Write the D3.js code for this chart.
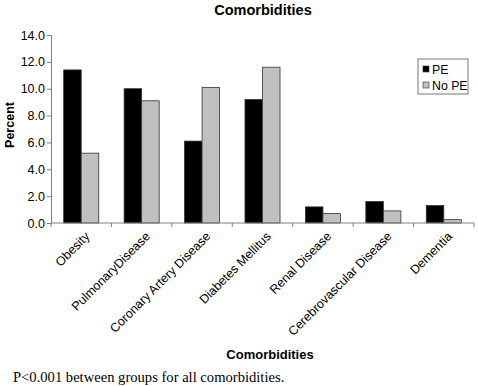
<!DOCTYPE html>
<html>
<head>
<meta charset="utf-8">
<script src="https://cdn.jsdelivr.net/npm/d3@7"></script>
<style>
  body { margin: 0; background: #fff; }
  svg { display: block; }
</style>
</head>
<body>
<div id="chart"></div>
<script>
// Data
const categories = ['Obesity', 'PulmonaryDisease', 'Coronary Artery Disease', 'Diabetes Mellitus',
                    'Renal Disease', 'Cerebrovascular Disease', 'Dementia'];
const seriesNames = ['PE', 'No PE'];
const pe   = [11.4, 10.0, 6.1, 9.2, 1.2, 1.6, 1.3];
const noPe = [5.2, 9.1, 10.1, 11.6, 0.7, 0.9, 0.25];
const yTicks = [0, 2, 4, 6, 8, 10, 12, 14];

const W = 478, H = 386;
const margin = { top: 35, right: 4, bottom: 163, left: 51 };
const width = W - margin.left - margin.right;
const height = H - margin.top - margin.bottom;
const colors = ['#000000', '#c0c0c0'];
const sans = 'Liberation Sans, Arial, sans-serif';

const rows = categories.map((c, i) => ({ cat: c, vals: [pe[i], noPe[i]] }));

const svg = d3.select('#chart').append('svg')
    .attr('width', W).attr('height', H);

const g = svg.append('g')
    .attr('transform', `translate(${margin.left},${margin.top})`);

const x = d3.scaleBand().domain(categories).range([0, width]).paddingInner(0.42).paddingOuter(0.21);
const xOuter = d3.scaleBand().domain(categories).range([0, width]);
const xSub = d3.scaleBand().domain(seriesNames).range([0, x.bandwidth()]);
const y = d3.scaleLinear().domain([0, 14]).range([height, 0]);

// bars
const groups = g.selectAll('.grp').data(rows).join('g')
    .attr('class', 'grp')
    .attr('transform', d => `translate(${x(d.cat)},0)`);

groups.selectAll('rect')
    .data(d => d.vals.map((v, i) => ({ v, s: seriesNames[i], i })))
    .join('rect')
    .attr('x', d => xSub(d.s))
    .attr('y', d => y(d.v))
    .attr('width', xSub.bandwidth())
    .attr('height', d => y(0) - y(d.v))
    .attr('fill', d => colors[d.i])
    .attr('stroke', '#333')
    .attr('stroke-width', 0.8);

// y axis
const yAxis = g.append('g')
    .call(d3.axisLeft(y).tickValues(yTicks).tickFormat(d3.format('.1f')).tickSize(4).tickPadding(2));
yAxis.select('.domain').attr('stroke', '#808080');
yAxis.selectAll('.tick line').attr('stroke', '#808080');
yAxis.selectAll('text').attr('font-family', sans).attr('font-size', '12.5px').attr('fill', '#000');

// x axis: ticks between categories
const xAxisG = g.append('g').attr('transform', `translate(0,${height})`);
xAxisG.append('line')
    .attr('x1', 0).attr('x2', width).attr('stroke', '#808080');
xAxisG.selectAll('.xt').data(categories.concat(['end'])).join('line')
    .attr('class', 'xt')
    .attr('x1', (d, i) => i < categories.length ? xOuter(d) : width)
    .attr('x2', (d, i) => i < categories.length ? xOuter(d) : width)
    .attr('y1', 0).attr('y2', 4)
    .attr('stroke', '#808080');
xAxisG.selectAll('.xl').data(categories).join('text')
    .attr('class', 'xl')
    .attr('transform', d => `translate(${xOuter(d) + xOuter.bandwidth() / 2 + 3},${8}) rotate(-45)`)
    .attr('text-anchor', 'end')
    .attr('dy', '0.7em')
    .attr('font-family', sans)
    .attr('font-size', '12.5px')
    .text(d => d);

// titles
svg.append('text')
    .attr('x', 263).attr('y', 15)
    .attr('text-anchor', 'middle')
    .attr('font-family', sans).attr('font-weight', 'bold').attr('font-size', '14.5px')
    .text('Comorbidities');

svg.append('text')
    .attr('x', 270).attr('y', 359)
    .attr('text-anchor', 'middle')
    .attr('font-family', sans).attr('font-weight', 'bold').attr('font-size', '13px')
    .text('Comorbidities');

svg.append('text')
    .attr('transform', `translate(14,${margin.top + height / 2 - 4}) rotate(-90)`)
    .attr('text-anchor', 'middle')
    .attr('font-family', sans).attr('font-weight', 'bold').attr('font-size', '12.5px')
    .text('Percent');

svg.append('text')
    .attr('x', 13).attr('y', 382)
    .attr('font-family', 'Liberation Serif, Times New Roman, serif').attr('font-size', '14.6px')
    .text('P<0.001 between groups for all comorbidities.');

// legend
const legend = svg.append('g').attr('transform', 'translate(418,59)');
legend.append('rect')
    .attr('width', 50).attr('height', 35)
    .attr('fill', '#fff').attr('stroke', '#555').attr('stroke-width', 0.8);
const li = legend.selectAll('.li').data(seriesNames).join('g')
    .attr('class', 'li')
    .attr('transform', (d, i) => `translate(5,${10 + i * 16})`);
li.append('rect')
    .attr('x', 0).attr('y', -3).attr('width', 6).attr('height', 6)
    .attr('fill', (d, i) => colors[i]).attr('stroke', '#333').attr('stroke-width', 0.6);
li.append('text')
    .attr('x', 9).attr('y', 4.5)
    .attr('font-family', sans).attr('font-size', '12.3px')
    .text(d => d);
</script>
</body>
</html>
